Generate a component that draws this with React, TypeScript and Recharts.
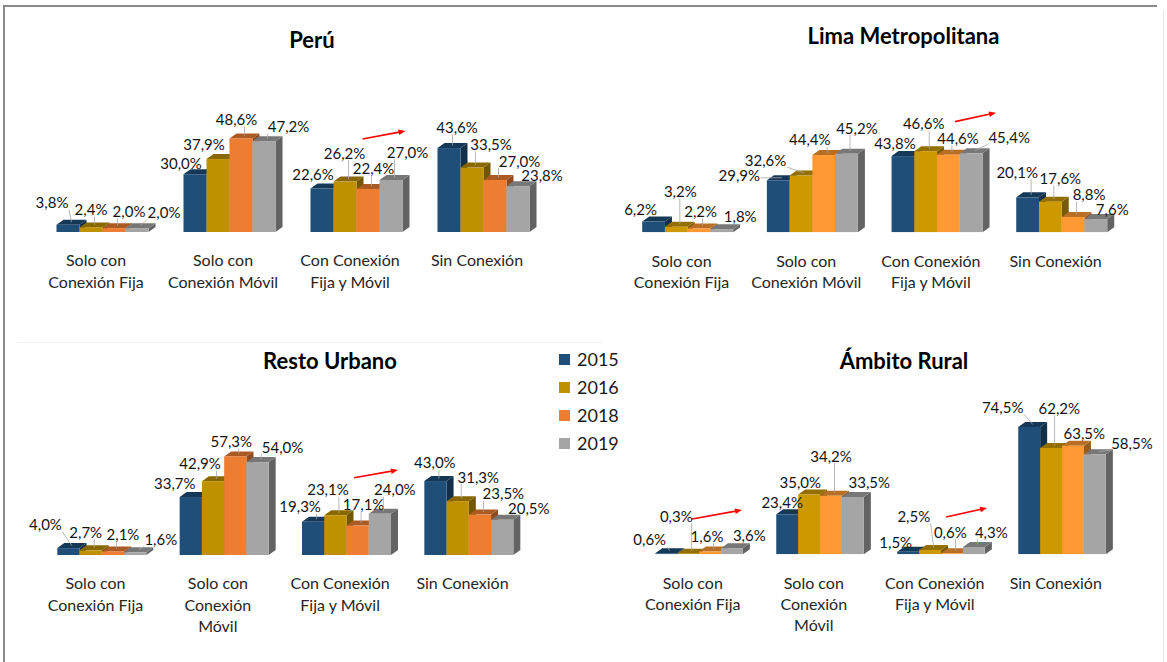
import React from 'react';
import { BarChart, Bar, XAxis, YAxis, LabelList, Legend } from 'recharts';

// ---------- data ----------
const CATEGORIES = [
  'Solo con Conexión Fija',
  'Solo con Conexión Móvil',
  'Con Conexión Fija y Móvil',
  'Sin Conexión',
];
const TICKS_TOP = ['Solo con\nConexión Fija', 'Solo con\nConexión Móvil', 'Con Conexión\nFija y Móvil', 'Sin Conexión'];
const TICKS_BOTTOM = ['Solo con\nConexión Fija', 'Solo con\nConexión\nMóvil', 'Con Conexión\nFija y Móvil', 'Sin Conexión'];
const YEARS = ['2015', '2016', '2018', '2019'];

const PERU_2015 = [3.8, 30.0, 22.6, 43.6];
const PERU_2016 = [2.4, 37.9, 26.2, 33.5];
const PERU_2018 = [2.0, 48.6, 22.4, 27.0];
const PERU_2019 = [2.0, 47.2, 27.0, 23.8];

const LIMA_2015 = [6.2, 29.9, 43.8, 20.1];
const LIMA_2016 = [3.2, 32.6, 46.6, 17.6];
const LIMA_2018 = [2.2, 44.4, 44.6, 8.8];
const LIMA_2019 = [1.8, 45.2, 45.4, 7.6];

const RESTO_2015 = [4.0, 33.7, 19.3, 43.0];
const RESTO_2016 = [2.7, 42.9, 23.1, 31.3];
const RESTO_2018 = [2.1, 57.3, 17.1, 23.5];
const RESTO_2019 = [1.6, 54.0, 24.0, 20.5];

const RURAL_2015 = [0.6, 23.4, 1.5, 74.5];
const RURAL_2016 = [0.3, 35.0, 2.5, 62.2];
const RURAL_2018 = [1.6, 34.2, 0.6, 63.5];
const RURAL_2019 = [3.6, 33.5, 4.3, 58.5];

// ---------- styling ----------
const FONT = "Lato, 'Noto Sans', sans-serif";
const COLORS_A = ['#1F4E79', '#BF9000', '#ED7D31', '#A5A5A5'];
const COLORS_B = ['#1F4E79', '#CC9900', '#FF9933', '#A5A5A5'];
const DX = 7;
const DY = 5;
const X_AXIS_H = 60;

// label nudges (dx, dy from bar top-centre), per category then per series
const NUDGE_PERU = [
  [[-16, -22.7], [0, -18.4], [15, -17.2], [27, -16.2]],
  [[-14, -11.3], [-14, -15], [-4.5, -19.4], [24.5, -15.1]],
  [[-9, -14.5], [-0.5, -28.6], [5.5, -20.9], [16.5, -28]],
  [[8, -21], [19, -23.5], [24.5, -19.5], [24, -11]],
];
const NUDGE_LIMA = [
  [[-13, -13], [4, -36], [1.6, -17.8], [18.4, -13]],
  [[-39, -5], [-35.5, -16], [-14, -15.7], [10.4, -26]],
  [[-8, -12.8], [-2, -28], [9.6, -17], [38, -16.6]],
  [[-10.4, -25.6], [10, -23.5], [16, -23], [16.4, -10]],
];
const NUDGE_RESTO = [
  [[-23, -23.8], [-5, -18.7], [10, -17.4], [25.6, -13]],
  [[-16, -14.3], [-13, -18], [-4, -15.4], [25, -15.4]],
  [[-13, -15.8], [-7.4, -26], [6, -21.6], [15, -24.4]],
  [[-0.6, -18.7], [20.6, -24.5], [23.4, -21.3], [26.6, -12]],
];
const NUDGE_RURAL = [
  [[-16.5, -14], [-11.8, -37.8], [-3, -15.6], [17.4, -13]],
  [[-5, -12.6], [-8.8, -12.2], [0, -40], [16.4, -14.7]],
  [[-12.5, -10], [-16.3, -34], [-1.7, -21.6], [17.4, -15.3]],
  [[-26.5, -20.2], [8.2, -40.3], [11.3, -13], [37, -11.6]],
];

type Arrow = { cat: number; x0: number; v0: number; x1: number; v1: number };

type Panel = {
  title: string;
  series: number[][];
  ticks: string[];
  colors: string[];
  left: number;
  top: number;
  width: number;
  height: number;
  margin: { top: number; right: number; bottom: number; left: number };
  domainMax: number;
  barSize: number;
  titleX: number;
  titleY: number;
  nudge: number[][][];
  arrows: Arrow[];
  legend?: boolean;
};

const PANELS: Panel[] = [
  {
    title: 'Perú',
    series: [PERU_2015, PERU_2016, PERU_2018, PERU_2019],
    ticks: TICKS_TOP,
    colors: COLORS_A,
    left: 0, top: 0, width: 580, height: 330,
    margin: { top: 50, right: 33.5, bottom: 330 - 232 - X_AXIS_H, left: 38.5 },
    domainMax: (232 - 50) / 1.925,
    barSize: 23,
    titleX: 312, titleY: 47.5,
    nudge: NUDGE_PERU,
    arrows: [{ cat: 2, x0: 6, v0: 48.3, x1: 49, v1: 52.5 }],
  },
  {
    title: 'Lima Metropolitana',
    series: [LIMA_2015, LIMA_2016, LIMA_2018, LIMA_2019],
    ticks: TICKS_TOP,
    colors: COLORS_B,
    left: 580, top: 0, width: 587, height: 330,
    margin: { top: 50, right: 43.1, bottom: 330 - 232.3 - X_AXIS_H, left: 45.2 },
    domainMax: (232.3 - 50) / 1.74,
    barSize: 22.75,
    titleX: 903.5, titleY: 44,
    nudge: NUDGE_LIMA,
    arrows: [{ cat: 2, x0: 18, v0: 63.6, x1: 59, v1: 68.7 }],
  },
  {
    title: 'Resto Urbano',
    series: [RESTO_2015, RESTO_2016, RESTO_2018, RESTO_2019],
    ticks: TICKS_BOTTOM,
    colors: COLORS_A,
    left: 0, top: 330, width: 580, height: 332,
    margin: { top: 40, right: 50.33, bottom: 332 - 225 - X_AXIS_H, left: 40.33 },
    domainMax: (225 - 40) / 1.72,
    barSize: 22.25,
    titleX: 330, titleY: 369,
    nudge: NUDGE_RESTO,
    arrows: [{ cat: 2, x0: 7.5, v0: 44.9, x1: 51.5, v1: 49.4 }],
    legend: true,
  },
  {
    title: 'Ámbito Rural',
    series: [RURAL_2015, RURAL_2016, RURAL_2018, RURAL_2019],
    ticks: TICKS_BOTTOM,
    colors: COLORS_B,
    left: 580, top: 330, width: 587, height: 332,
    margin: { top: 40, right: 44.75, bottom: 332 - 224.3 - X_AXIS_H, left: 58.25 },
    domainMax: (224.3 - 40) / 1.71,
    barSize: 21.9,
    titleX: 904, titleY: 369,
    nudge: NUDGE_RURAL,
    arrows: [
      { cat: 0, x0: -7, v0: 20.6, x1: 43, v1: 25.9 },
      { cat: 2, x0: 5, v0: 21.8, x1: 46, v1: 27.1 },
    ],
  },
];

// ---------- helpers ----------
function shade(hex: string, f: number) {
  const n = parseInt(hex.slice(1), 16);
  const r = Math.round(((n >> 16) & 255) * f);
  const g = Math.round(((n >> 8) & 255) * f);
  const b = Math.round((n & 255) * f);
  return `rgb(${r},${g},${b})`;
}
const fmt = (v: number) => v.toFixed(1).replace('.', ',') + '%';
const textW = (s: string) => {
  let w = 0;
  for (const c of s) w += c === ',' ? 3.9 : c === '%' ? 12.5 : 8.7;
  return w;
};
const clamp = (v: number, a: number, b: number) => Math.max(a, Math.min(b, v));

const Bar3D = (props: any) => {
  const { x, y, width, height, color } = props;
  if (x == null || y == null || !width) return null;
  const h = Math.max(height || 0, 0);
  return (
    <g>
      <polygon
        points={`${x + width},${y} ${x + width + DX},${y - DY} ${x + width + DX},${y + h - DY} ${x + width},${y + h}`}
        fill={shade(color, 0.6)}
      />
      <polygon
        points={`${x},${y} ${x + DX},${y - DY} ${x + width + DX},${y - DY} ${x + width},${y}`}
        fill={shade(color, 0.72)}
      />
      <rect x={x} y={y} width={width} height={h} fill={color} />
    </g>
  );
};

const makeLabel = (panel: Panel, j: number) => (props: any) => {
  const vb = props.viewBox || props;
  const x = vb.x ?? props.x;
  const y = vb.y ?? props.y;
  const width = vb.width ?? props.width;
  const height = vb.height ?? props.height;
  const value = props.value;
  const index = props.index;
  if (value == null || x == null || index == null) return null;
  const nud = panel.nudge[index][j];
  const cx = x + width / 2;
  const lx = cx + nud[0];
  const ly = y + nud[1];
  const text = fmt(Number(value));
  const w = textW(text);
  const hh = 15;
  const px = cx + DX / 2;
  const py = y - DY / 2;
  const sx = clamp(px, lx - w / 2, lx + w / 2);
  const sy = clamp(py, ly - hh / 2, ly + hh / 2);
  const dist = Math.hypot(px - sx, py - sy);
  const arrows: React.ReactNode[] = [];
  if (j === 0) {
    const base = y + height;
    const k = value > 0 && height > 0 ? height / value : 1.7;
    const gc = cx + 1.5 * width;
    panel.arrows
      .filter((a) => a.cat === index)
      .forEach((a, ai) => {
        const x0 = gc + a.x0;
        const y0 = base - a.v0 * k;
        const x1 = gc + a.x1;
        const y1 = base - a.v1 * k;
        const len = Math.hypot(x1 - x0, y1 - y0);
        const ux = (x1 - x0) / len;
        const uy = (y1 - y0) / len;
        const nx = -uy;
        const ny = ux;
        const hl = 7;
        const hw = 2.8;
        arrows.push(
          <g key={`ar${ai}`}>
            <line x1={x0} y1={y0} x2={x1 - ux * 5} y2={y1 - uy * 5} stroke="#FF0000" strokeWidth={1.6} />
            <polygon
              points={`${x1},${y1} ${x1 - ux * hl + nx * hw},${y1 - uy * hl + ny * hw} ${x1 - ux * hl - nx * hw},${y1 - uy * hl - ny * hw}`}
              fill="#FF0000"
            />
          </g>
        );
      });
  }
  return (
    <g>
      {dist > 5 && <line x1={sx} y1={sy} x2={px} y2={py} stroke="#A6A6A6" strokeWidth={0.8} />}
      <text
        x={lx}
        y={ly}
        textAnchor="middle"
        dominantBaseline="central"
        fontFamily={FONT}
        fontSize={15}
        fill="#141414"
      >
        {text}
      </text>
      {arrows}
    </g>
  );
};

const makeTick = (lines: string[]) => (props: any) => {
  const { x, y, payload } = props;
  let idx = payload && typeof payload.index === 'number' ? payload.index : CATEGORIES.indexOf(payload?.value);
  if (idx < 0) idx = 0;
  const parts = lines[idx].split('\n');
  return (
    <g>
      {parts.map((t, i) => (
        <text
          key={i}
          x={x - 6}
          y={y + 27.8 + i * 21.3}
          textAnchor="middle"
          dominantBaseline="central"
          fontFamily={FONT}
          fontSize={16}
          fill="#262626"
        >
          {t}
        </text>
      ))}
    </g>
  );
};

const LegendContent = (props: any) => {
  const payload = props.payload || [];
  return (
    <div style={{ fontFamily: FONT, fontSize: 18, color: '#1a1a1a' }}>
      {payload.map((e: any) => (
        <div key={e.value} style={{ display: 'flex', alignItems: 'center', height: 28 }}>
          <span
            style={{ display: 'inline-block', width: 11, height: 11, background: e.color, marginRight: 7 }}
          />
          <span style={{ lineHeight: '28px' }}>{e.value}</span>
        </div>
      ))}
    </div>
  );
};

const PanelChart = ({ panel }: { panel: Panel }) => {
  const data = CATEGORIES.map((cat, i) => {
    const row: any = { cat };
    YEARS.forEach((yr, j) => {
      row['y' + yr] = panel.series[j][i];
    });
    return row;
  });
  return (
    <div style={{ position: 'absolute', left: panel.left, top: panel.top, width: panel.width, height: panel.height }}>
      <BarChart
        width={panel.width}
        height={panel.height}
        data={data}
        margin={panel.margin}
        barGap={0}
        style={{ fontFamily: FONT }}
      >
        <XAxis
          dataKey="cat"
          type="category"
          axisLine={false}
          tickLine={false}
          tickSize={0}
          tickMargin={0}
          height={X_AXIS_H}
          interval={0}
          tick={makeTick(panel.ticks)}
        />
        <YAxis hide type="number" domain={[0, panel.domainMax]} allowDataOverflow />
        {panel.legend && (
          <Legend
            layout="vertical"
            align="center"
            verticalAlign="middle"
            content={<LegendContent />}
            wrapperStyle={{ left: 559, top: 15, width: 90, height: 112 }}
          />
        )}
        {YEARS.map((yr, j) => (
          <Bar
            key={yr}
            dataKey={'y' + yr}
            name={yr}
            fill={panel.colors[j]}
            barSize={panel.barSize}
            isAnimationActive={false}
            shape={(p: any) => <Bar3D {...p} color={panel.colors[j]} />}
          >
            <LabelList dataKey={'y' + yr} content={makeLabel(panel, j)} />
          </Bar>
        ))}
      </BarChart>
    </div>
  );
};

export default function App() {
  return (
    <div
      style={{
        position: 'absolute',
        left: 0,
        top: 0,
        width: 1167,
        height: 662,
        background: '#ffffff',
        overflow: 'hidden',
      }}
    >
      <svg width={1167} height={662} style={{ position: 'absolute', left: 0, top: 0 }}>
        <line x1={4} y1={6} x2={1157} y2={6} stroke="#8a8a8a" strokeWidth={2} />
        <line x1={4} y1={5} x2={4} y2={662} stroke="#8a8a8a" strokeWidth={2} />
        <line x1={1163.5} y1={10} x2={1163.5} y2={662} stroke="#e6e6e6" strokeWidth={1} />
        <line x1={17} y1={342.5} x2={603} y2={342.5} stroke="#f3f3f3" strokeWidth={1} />
        {PANELS.map((p) => (
          <text
            key={p.title}
            x={p.titleX}
            y={p.titleY}
            textAnchor="middle"
            fontFamily={FONT}
            fontWeight={700}
            fontSize={22}
            fill="#000000"
          >
            {p.title}
          </text>
        ))}
      </svg>
      {PANELS.map((p) => (
        <PanelChart key={p.title} panel={p} />
      ))}
    </div>
  );
}
